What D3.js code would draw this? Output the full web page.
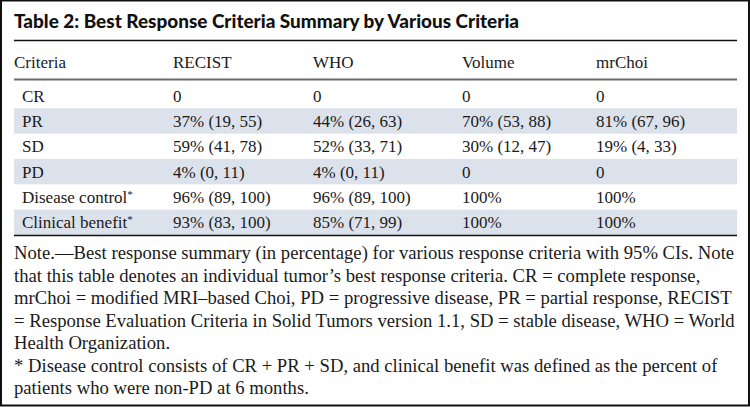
<!DOCTYPE html>
<html><head><meta charset="utf-8">
<script src="https://cdn.jsdelivr.net/npm/d3@7"></script>
<style>
html,body{margin:0;padding:0;background:#fff;}
svg{display:block;}
</style></head>
<body>
<script>
const title = "Table 2: Best Response Criteria Summary by Various Criteria";
const headers = ["Criteria", "RECIST", "WHO", "Volume", "mrChoi"];
const criteria = ["CR", "PR", "SD", "PD", "Disease control", "Clinical benefit"];
const footMarks = ["", "", "", "", "*", "*"];
const recist = ["0", "37% (19, 55)", "59% (41, 78)", "4% (0, 11)", "96% (89, 100)", "93% (83, 100)"];
const who = ["0", "44% (26, 63)", "52% (33, 71)", "4% (0, 11)", "96% (89, 100)", "85% (71, 99)"];
const volume = ["0", "70% (53, 88)", "30% (12, 47)", "0", "100%", "100%"];
const mrchoi = ["0", "81% (67, 96)", "19% (4, 33)", "0", "100%", "100%"];
const notes = [
  "Note.\u2014Best response summary (in percentage) for various response criteria with 95% CIs. Note",
  "that this table denotes an individual tumor\u2019s best response criteria. CR = complete response,",
  "mrChoi = modified MRI\u2013based Choi, PD = progressive disease, PR = partial response, RECIST",
  "= Response Evaluation Criteria in Solid Tumors version 1.1, SD = stable disease, WHO = World",
  "Health Organization.",
  "* Disease control consists of CR + PR + SD, and clinical benefit was defined as the percent of",
  "patients who were non-PD at 6 months."
];
const noteTargetWidth = 721;

const W = 750, H = 407;
const svg = d3.select("body").append("svg").attr("width", W).attr("height", H);
const serif = "'Liberation Serif', 'DejaVu Serif', serif";
const ink = "#1a1a1a";

// outer frame
svg.append("rect").attr("x", 1).attr("y", 0.5).attr("width", W - 2).attr("height", H - 2)
  .attr("fill", "none").attr("stroke", "#111").attr("stroke-width", 2);

// title
svg.append("text").attr("x", 14).attr("y", 28)
  .attr("font-family", "Lato, 'DejaVu Sans', sans-serif").attr("font-weight", 900)
  .attr("font-size", 18.5).attr("fill", "#111")
  .attr("textLength", 505).attr("lengthAdjust", "spacingAndGlyphs")
  .text(title);

const x0 = 14, x1 = 737;
const colX = d3.scaleOrdinal().domain(headers).range([14, 173, 313, 462, 596]);
const rowY = d3.scaleBand().domain(d3.range(criteria.length)).range([83, 235]);

// bands
svg.selectAll("rect.band").data(d3.range(criteria.length).filter(i => i % 2 === 1)).join("rect")
  .attr("class", "band").attr("x", x0).attr("width", x1 - x0)
  .attr("y", i => rowY(i)).attr("height", rowY.bandwidth()).attr("fill", "#dce2eb");

// rules
svg.append("line").attr("x1", x0).attr("x2", x1).attr("y1", 40.5).attr("y2", 40.5).attr("stroke", "#111").attr("stroke-width", 1.5);
svg.append("line").attr("x1", x0).attr("x2", x1).attr("y1", 79.5).attr("y2", 79.5).attr("stroke", "#6a6a6a").attr("stroke-width", 2.2);
svg.append("line").attr("x1", x0).attr("x2", x1).attr("y1", rowY.range()[1] + 0.5).attr("y2", rowY.range()[1] + 0.5).attr("stroke", "#111").attr("stroke-width", 1.6);

// header
svg.selectAll("text.hdr").data(headers).join("text").attr("class", "hdr")
  .attr("x", d => colX(d)).attr("y", 68)
  .attr("font-family", serif).attr("font-size", 17).attr("fill", ink).text(d => d);

// cells
const cols = [recist, who, volume, mrchoi];
criteria.forEach((c, i) => {
  const yb = rowY(i) + rowY.bandwidth() / 2 + 6;
  const t = svg.append("text").attr("x", 22).attr("y", yb)
    .attr("font-family", serif).attr("font-size", 17).attr("fill", ink);
  t.append("tspan").text(c);
  if (footMarks[i]) t.append("tspan").attr("dy", -5).attr("font-size", 11).text(footMarks[i]);
  cols.forEach((arr, j) => {
    svg.append("text").attr("x", colX(headers[j + 1])).attr("y", yb)
      .attr("font-family", serif).attr("font-size", 17).attr("fill", ink).text(arr[i]);
  });
});

// notes
const nt = svg.append("g").selectAll("text").data(notes).join("text")
  .attr("x", 14).attr("y", (d, i) => 259 + i * 22.5)
  .attr("font-family", serif).attr("font-size", 16).attr("fill", ink).text(d => d);
const maxW = d3.max(nt.nodes(), n => n.getComputedTextLength());
nt.attr("font-size", 16 * noteTargetWidth / maxW);
</script>
</body></html>
